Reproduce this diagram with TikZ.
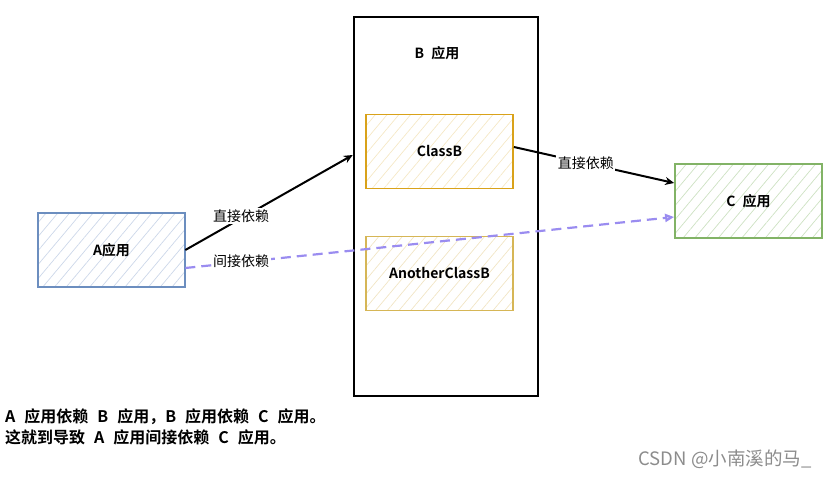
\documentclass[tikz,border=0pt]{standalone}
\usepackage{fontspec}
\setmainfont{Noto Sans CJK SC}
\newfontfamily\cjkb{Noto Sans CJK SC Bold}
\usetikzlibrary{arrows.meta,patterns.meta}
\definecolor{ablue}{HTML}{6C8EBF}
\definecolor{borange}{HTML}{D9A21A}
\definecolor{bgold}{HTML}{D6B656}
\definecolor{cgreen}{HTML}{82B366}
\definecolor{dashc}{HTML}{9A8CF0}
\newcommand{\wsp}{\hspace{7pt}}
\newcommand{\wspb}{\hspace{9pt}}
\tikzset{
  box/.style={draw, line width=1.8pt, minimum width=147pt, minimum height=74pt, inner sep=0pt, font=\cjkb\fontsize{14}{16}\selectfont},
  hatch/.style={pattern={Lines[angle=50,distance=9pt,line width=0.7pt]}, pattern color=#1},
  lbl/.style={fill=white, inner sep=1.5pt, font=\fontsize{14}{16}\selectfont},
  dep/.style={line width=2pt, -{Stealth[length=9pt,width=8pt,open]}},
}
\begin{document}
\begin{tikzpicture}[x=1pt,y=-1pt]
\useasboundingbox (0,0) rectangle (831,478);
\node[draw=black, line width=2.5pt, minimum width=184pt, minimum height=379pt, inner sep=0pt] (B) at (446,206.5) {};
\node[font=\cjkb\fontsize{14}{16}\selectfont] (Bt) at (437,53) {B\wsp 应用};
\node[box, draw=ablue, hatch=ablue!35] (A) at (111.5,250) {A应用};
\node[box, draw=borange, hatch=borange!25] (CB) at (439.5,151.5) {ClassB};
\node[box, draw=bgold, hatch=bgold!35] (ACB) at (439.5,273.5) {AnotherClassB};
\node[box, draw=cgreen, hatch=cgreen!40] (C) at (748.5,201) {C\wsp 应用};
\draw[dep] (A.east |- 0,250) -- (B.west |- 0,155);
\draw[dep] (CB.east |- 0,147) -- node[lbl, pos=0.45] (l2) {直接依赖} (C.west |- 0,183);
\draw[line width=2.2pt, dashc, dash pattern=on 10pt off 6pt, -{Triangle[length=9pt,width=8pt,open]}] (A.east |- 0,268) -- (C.west |- 0,217);
\node[lbl] (l3) at (241,261) {间接依赖};
\node[lbl] (l1) at (241,216) {直接依赖};
\node[anchor=west, align=left, inner sep=0pt, font=\cjkb\fontsize{16}{21}\selectfont] (txt) at (5,426.5) {A\wspb 应用依赖\wspb B\wspb 应用，B\wspb 应用依赖\wspb C\wspb 应用。\\这就到导致\wspb A\wspb 应用间接依赖\wspb C\wspb 应用。};
\node[text=black!45, font=\fontsize{18.5}{20}\selectfont] (wm) at (725,459) {CSDN @小南溪的马\_};
\end{tikzpicture}
\end{document}
